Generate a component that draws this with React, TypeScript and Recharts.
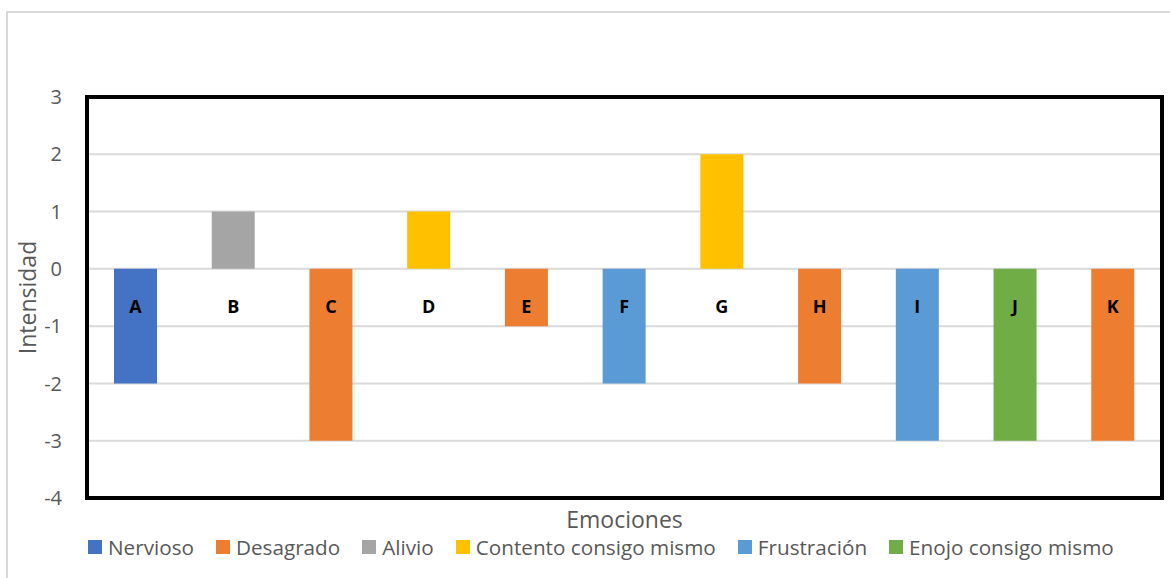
import React from "react";
import {
  BarChart,
  Bar,
  XAxis,
  YAxis,
  CartesianGrid,
  Legend,
  LabelList,
  ReferenceArea,
} from "recharts";

// categories (one bar each) and which emotion series the bar belongs to
const categories = ["A", "B", "C", "D", "E", "F", "G", "H", "I", "J", "K"];
const seriesOfCategory = [
  "Nervioso",
  "Alivio",
  "Desagrado",
  "Contento consigo mismo",
  "Desagrado",
  "Frustración",
  "Contento consigo mismo",
  "Desagrado",
  "Frustración",
  "Enojo consigo mismo",
  "Desagrado",
];
const intensity = [-2, 1, -3, 1, -1, -2, 2, -2, -3, -3, -3];

const seriesNames = [
  "Nervioso",
  "Desagrado",
  "Alivio",
  "Contento consigo mismo",
  "Frustración",
  "Enojo consigo mismo",
];
const seriesColors = ["#4472C4", "#ED7D31", "#A5A5A5", "#FFC000", "#5B9BD5", "#70AD47"];

const yTicks = [-4, -3, -2, -1, 0, 1, 2, 3];

const FONT = "'Open Sans', sans-serif";
const GREY = "#595959";

const data = categories.map((cat, i) => {
  const row: Record<string, any> = { cat };
  row[seriesOfCategory[i]] = intensity[i];
  return row;
});

// letter sits just below the zero line, whatever the sign of the bar
const renderLetter = (props: any) => {
  const { x, y, width, height, value } = props;
  const i = categories.indexOf(value);
  if (i < 0) return null;
  const top = Math.min(y, y + height);
  const bottom = Math.max(y, y + height);
  const zeroY = intensity[i] < 0 ? top : bottom;
  return (
    <text
      x={x + width / 2}
      y={zeroY + 37}
      textAnchor="middle"
      dominantBaseline="central"
      fontFamily={FONT}
      fontWeight={700}
      fontSize={18}
      fill="#000"
    >
      {value}
    </text>
  );
};

const LegendContent = () => (
  <div
    style={{
      display: "flex",
      height: 30,
      paddingLeft: 88,
      fontFamily: FONT,
      fontSize: 20.7,
      lineHeight: "20px",
      color: GREY,
      alignItems: "flex-start",
      whiteSpace: "nowrap",
    }}
  >
    {seriesNames.map((name, i) => (
      <div key={name} style={{ display: "flex", alignItems: "center", marginRight: 22 }}>
        <span
          style={{
            display: "inline-block",
            width: 14,
            height: 14,
            background: seriesColors[i],
            marginRight: 6,
          }}
        />
        <span>{name}</span>
      </div>
    ))}
  </div>
);

export default function App() {
  return (
    <div style={{ position: "absolute", left: 0, top: 0, width: 1170, height: 578, background: "#fff" }}>
      <div
        style={{
          position: "absolute",
          left: 6,
          top: 11,
          width: 1170,
          height: 578,
          borderLeft: "2px solid #D9D9D9",
          borderTop: "2px solid #D9D9D9",
        }}
      />
      <BarChart
        width={1170}
        height={578}
        data={data}
        margin={{ top: 97, right: 8, bottom: 0, left: 0 }}
      >
        <CartesianGrid vertical={false} stroke="#D9D9D9" strokeWidth={2} />
        <XAxis
          dataKey="cat"
          tick={false}
          tickLine={false}
          axisLine={false}
          height={50}
          label={{
            value: "Emociones",
            position: "insideTop",
            offset: 14,
            fill: GREY,
            fontSize: 23,
            fontFamily: FONT,
          }}
        />
        <YAxis
          width={87}
          domain={[-4, 3]}
          ticks={yTicks}
          interval={0}
          tickLine={false}
          axisLine={false}
          tickMargin={19}
          tick={{ fill: GREY, fontSize: 20, fontFamily: FONT }}
          label={{
            value: "Intensidad",
            angle: -90,
            position: "insideLeft",
            offset: 28,
            fill: GREY,
            fontSize: 23,
            fontFamily: FONT,
            style: { textAnchor: "middle" },
          }}
        />
        {seriesNames.map((name, i) => (
          <Bar
            key={name}
            dataKey={name}
            stackId="a"
            fill={seriesColors[i]}
            barSize={43}
            isAnimationActive={false}
          >
            <LabelList dataKey="cat" content={renderLetter} />
          </Bar>
        ))}
        <ReferenceArea
          y1={-4}
          y2={3}
          fill="none"
          stroke="#000"
          strokeWidth={4}
          ifOverflow="visible"
        />
        <Legend
          verticalAlign="bottom"
          height={30}
          content={<LegendContent />}
          wrapperStyle={{ top: 537, bottom: "auto", left: 0, width: 1170 }}
        />
      </BarChart>
    </div>
  );
}
